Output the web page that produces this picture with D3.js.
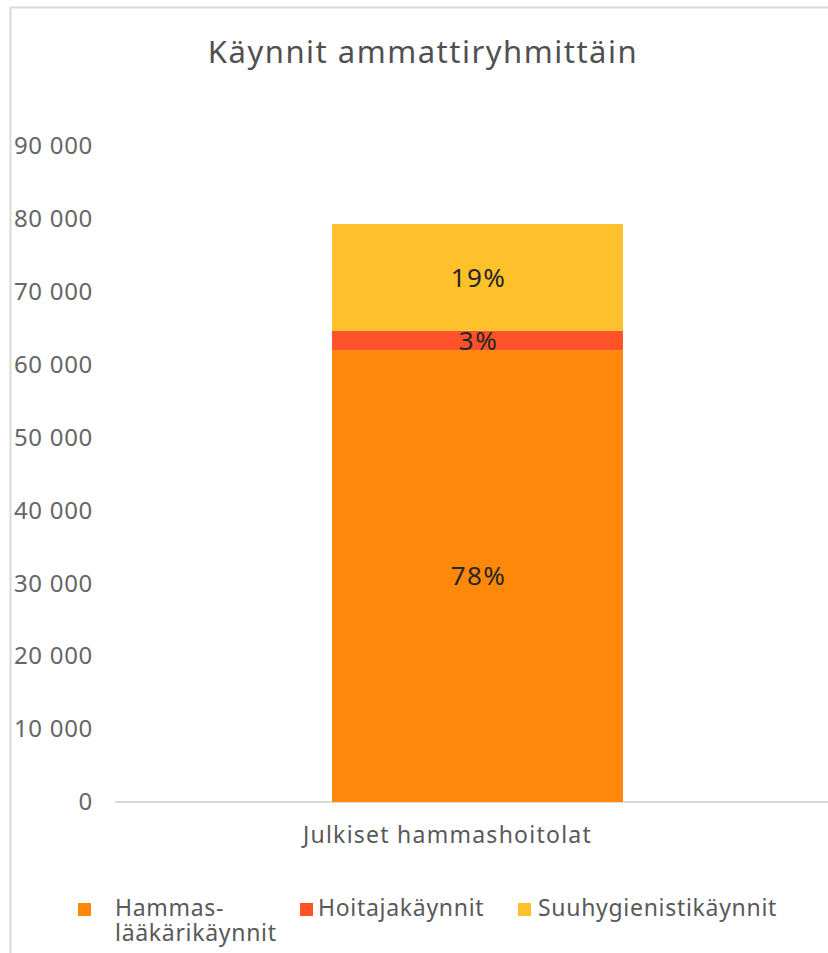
<!DOCTYPE html>
<html>
<head>
<meta charset="utf-8">
<script src="https://cdn.jsdelivr.net/npm/d3@7"></script>
<style>
  html, body { margin: 0; padding: 0; background: #fff; }
  svg { display: block; }
  text { font-family: "Noto Sans", "Open Sans", sans-serif; }
</style>
</head>
<body>
<svg id="chart" width="828" height="953"></svg>
<script>
const title = "Käynnit ammattiryhmittäin";
const categories = ["Julkiset hammashoitolat"];
const seriesNames = ["Hammas-\nlääkärikäynnit", "Hoitajakäynnit", "Suuhygienistikäynnit"];
const seriesValues = [[62000], [2650], [14650]];
const seriesLabels = [["78%"], ["3%"], ["19%"]];
const seriesColors = ["#FF870A", "#FF5229", "#FFC12B"];
const yTicks = [0, 10000, 20000, 30000, 40000, 50000, 60000, 70000, 80000, 90000];

const svg = d3.select("#chart");

// frame
svg.append("line").attr("x1", 10.5).attr("x2", 10.5).attr("y1", 7).attr("y2", 953)
  .attr("stroke", "#d9d9d9").attr("stroke-width", 2);
svg.append("line").attr("x1", 10).attr("x2", 828).attr("y1", 7.5).attr("y2", 7.5)
  .attr("stroke", "#d9d9d9").attr("stroke-width", 2);

// title
svg.append("text").attr("x", 423).attr("y", 63).attr("text-anchor", "middle")
  .attr("font-size", 31).attr("letter-spacing", 1.5).attr("fill", "#505050").text(title);

const y = d3.scaleLinear().domain([0, 90000]).range([802, 146]);
const x = d3.scaleBand().domain(categories).range([115, 840]).paddingInner(0).paddingOuter(0.746);

const loc = d3.formatLocale({decimal: ",", thousands: " ", grouping: [3], currency: ["", "€"]});
const fmt = loc.format(",d");

const yAxis = d3.axisLeft(y).tickValues(yTicks).tickFormat(fmt).tickSize(0).tickPadding(0);
const gy = svg.append("g").attr("transform", "translate(93,0)").call(yAxis);
gy.select(".domain").remove();
gy.selectAll("text").attr("font-size", 24).attr("letter-spacing", 0.7).attr("fill", "#666666")
  .style("font-family", "'Noto Sans', sans-serif");

// baseline
svg.append("line").attr("x1", 115).attr("x2", 828).attr("y1", y(0)).attr("y2", y(0))
  .attr("stroke", "#d9d9d9").attr("stroke-width", 2);

// stacked bars
const stackData = categories.map((c, i) => {
  const o = {cat: c};
  seriesNames.forEach((s, j) => o["s" + j] = seriesValues[j][i]);
  return o;
});
const keys = seriesNames.map((s, j) => "s" + j);
const stacked = d3.stack().keys(keys)(stackData);

stacked.forEach((layer, j) => {
  const g = svg.append("g");
  g.selectAll("rect").data(layer).enter().append("rect")
    .attr("x", d => x(d.data.cat))
    .attr("width", x.bandwidth())
    .attr("y", d => y(d[1]))
    .attr("height", d => y(d[0]) - y(d[1]))
    .attr("fill", seriesColors[j]);
  g.selectAll("text").data(layer).enter().append("text")
    .attr("x", d => x(d.data.cat) + x.bandwidth() / 2 + 1)
    .attr("y", d => (y(d[0]) + y(d[1])) / 2)
    .attr("dy", "0.36em")
    .attr("text-anchor", "middle")
    .attr("font-size", 26).attr("letter-spacing", 1.4).attr("fill", "#262626")
    .text((d, i) => seriesLabels[j][i]);
});

// category label
svg.selectAll(".cat").data(categories).enter().append("text")
  .attr("x", d => x(d) + x.bandwidth() / 2 - 30)
  .attr("y", 843).attr("text-anchor", "middle")
  .attr("font-size", 23).attr("letter-spacing", 1.25).attr("fill", "#595959").text(d => d);

// legend
const legendX = [78, 300, 518];
const legendTextX = [115, 318, 538];
seriesNames.forEach((s, j) => {
  svg.append("rect").attr("x", legendX[j]).attr("y", 903).attr("width", 13).attr("height", 13)
    .attr("fill", seriesColors[j]);
  s.split("\n").forEach((line, k) => {
    svg.append("text").attr("x", legendTextX[j]).attr("y", 916 + k * 25)
      .attr("font-size", 23).attr("letter-spacing", 0.7)
      .attr("fill", "#595959").text(line);
  });
});
</script>
</body>
</html>
